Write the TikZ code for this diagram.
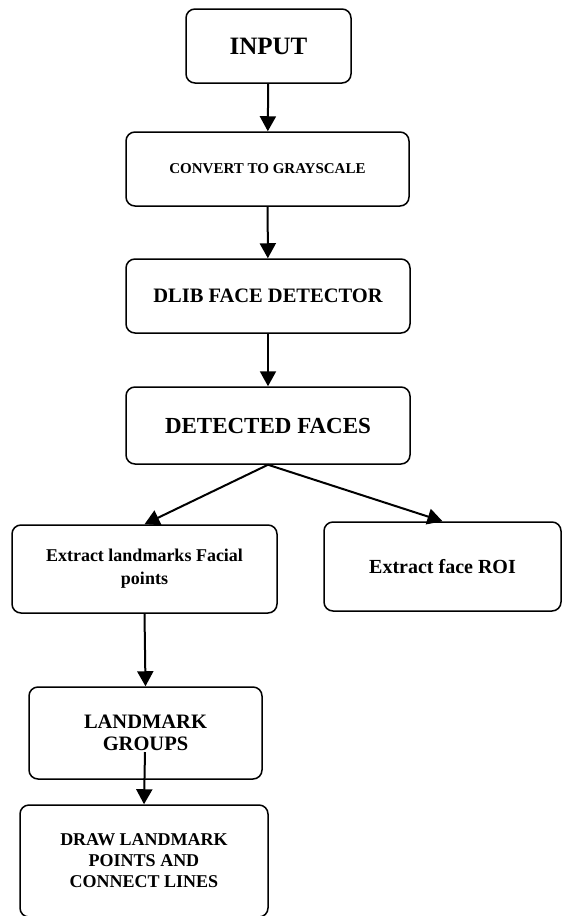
\documentclass[tikz,border=0pt]{standalone}
\usepackage{fontspec}
\setmainfont{Liberation Serif}
\usetikzlibrary{arrows.meta}

\begin{document}
\begin{tikzpicture}[x=1pt,y=-1pt,
        stage/.style={draw,line width=1.5pt,rounded corners=9pt,align=center,inner sep=0pt},
        fs/.style 2 args={font=\bfseries\fontsize{#1}{#2}\selectfont},
        flow/.style={line width=2pt,-{Triangle[width=16pt,length=15pt]}}]
                \useasboundingbox (0,0) rectangle (562,916);

                \node[stage,fs={25}{28},minimum width=165,minimum height=74] (input) at (268.5,46) {INPUT};
                \node[stage,fs={15}{18},minimum width=283,minimum height=74] (convert) at (267.5,169) {CONVERT TO GRAYSCALE};
                \node[stage,fs={20.5}{24},minimum width=284,minimum height=74] (dlib) at (268,296) {DLIB FACE DETECTOR};
                \node[stage,fs={23}{26},minimum width=284,minimum height=77] (detected) at (268,425.5) {DETECTED FACES};
                \node[stage,fs={18}{23},minimum width=265,minimum height=88] (landmarks) at (144.5,569) {Extract landmarks Facial\\points};
                \node[stage,fs={20}{23},minimum width=237,minimum height=89] (roi) at (442.5,566.5) {Extract face ROI};
                \node[stage,fs={20.5}{22},minimum width=233,minimum height=92] (groups) at (145.5,733) {LANDMARK\\GROUPS};
                \node[stage,fs={18}{21},minimum width=248,minimum height=112] (drawpts) at (144,861) {DRAW LANDMARK\\POINTS AND\\CONNECT LINES};

                \coordinate (groupsmid) at (145,752);

                \draw[flow] (input) -- (convert);
                \draw[flow] (convert) -- (dlib);
                \draw[flow] (dlib) -- (detected);
                \draw[flow] (detected.south) -- (landmarks.north);
                \draw[flow] (detected.south) -- (roi.north);
                \draw[flow] (landmarks.south) -- (groups.north);
                \draw[flow] (groupsmid) -- (drawpts.north);

\end{tikzpicture}
\end{document}
